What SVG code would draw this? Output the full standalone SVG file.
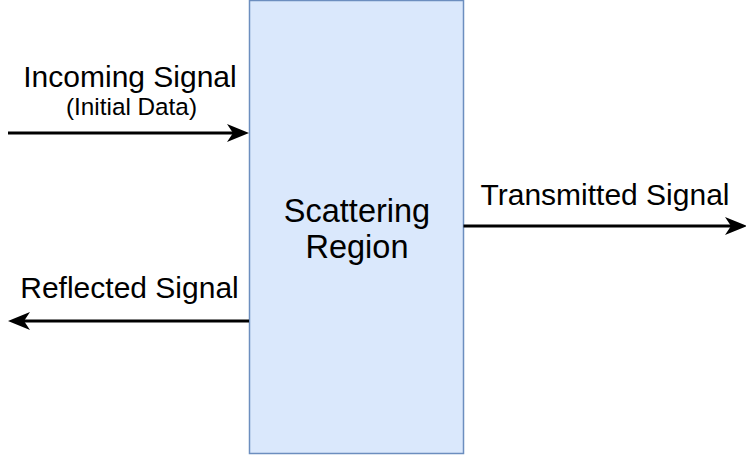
<svg xmlns="http://www.w3.org/2000/svg" width="746" height="457" viewBox="0 0 746 457">
  <style>
    .lbl { font-family: "Liberation Sans", Arial, Helvetica, sans-serif; fill: #000; text-anchor: middle; }
    .big { font-size: 30px; }
    .center { font-size: 32.5px; }
    .small { font-size: 24.3px; }
    .conn { stroke: #000; stroke-width: 3.2; fill: none; }
  </style>
  <defs>
    <marker id="arrow" markerUnits="userSpaceOnUse" viewBox="0 0 22 18" markerWidth="22" markerHeight="18" refX="9" refY="9" orient="auto">
      <path d="M0,0 L22,9 L0,18 L6,9 Z" fill="#000"/>
    </marker>
  </defs>
  <rect width="746" height="457" fill="#fff"/>
  <g id="scattering-region">
    <rect x="249.5" y="0.5" width="214" height="453" fill="#dae8fc" stroke="#6c8ebf" stroke-width="1.5"/>
    <text class="lbl center" x="357" y="222">Scattering</text>
    <text class="lbl center" x="357" y="258">Region</text>
  </g>
  <g id="connectors">
    <line class="conn" x1="8" y1="133" x2="236" y2="133" marker-end="url(#arrow)"/>
    <line class="conn" x1="463.5" y1="226" x2="734" y2="226" marker-end="url(#arrow)"/>
    <line class="conn" x1="249" y1="321" x2="21" y2="321" marker-end="url(#arrow)"/>
  </g>
  <g id="label-incoming">
    <text class="lbl big" x="130" y="87">Incoming Signal</text>
    <text class="lbl small" x="131.5" y="115">(Initial Data)</text>
  </g>
  <g id="label-transmitted">
    <text class="lbl big" x="605" y="205">Transmitted Signal</text>
  </g>
  <g id="label-reflected">
    <text class="lbl big" x="129.5" y="298">Reflected Signal</text>
  </g>
</svg>
